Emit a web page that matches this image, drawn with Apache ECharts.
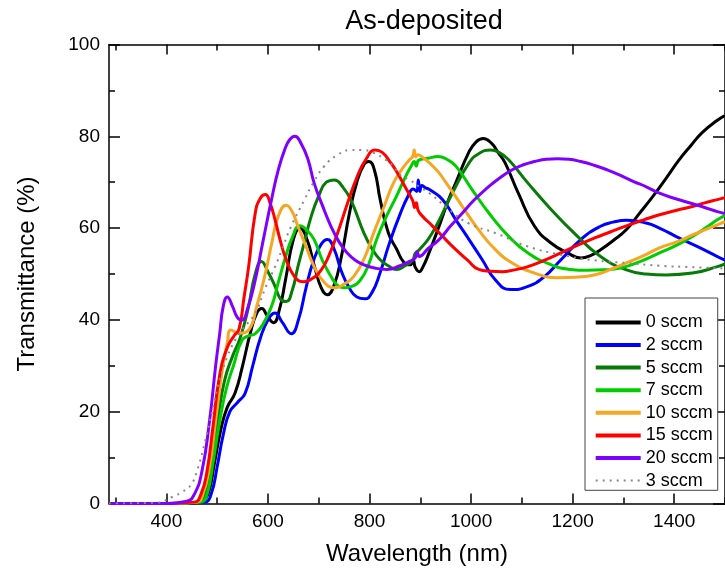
<!DOCTYPE html>
<html><head><meta charset="utf-8">
<script src="https://cdn.jsdelivr.net/npm/echarts@6/dist/echarts.min.js"></script>
<style>html,body{margin:0;padding:0;background:#fff}#c{width:725px;height:576px}</style>
</head><body><div id="c"></div>
<script>
// ---- data ----
const xMin = 287, xMax = 1500;
const xMajorTicks = [400, 600, 800, 1000, 1200, 1400];
const xMinorTicks = [300, 500, 700, 900, 1100, 1300, 1500];
const seriesNames = ['0 sccm', '2 sccm', '5 sccm', '7 sccm', '10 sccm', '15 sccm', '20 sccm', '3 sccm'];

const s0 = [[287,0],[400,0],[460,0.2],[470,0.5],[482,2],[495,9],[507,16],[520,21],[535,24],[550,30],[565,37],[578,41.5],[588,42.5],[598,41],[611,39.4],[622,42],[635,49],[650,57.5],[663,60],[677,57.5],[692,51.5],[705,47],[717,45.5],[730,47.5],[745,54],[760,63],[775,70],[790,74],[799,74.5],[810,72.5],[821,66.2],[837,59],[853,55.5],[868,52.5],[880,52],[886,53],[890,51.5],[898,50.5],[905,51.5],[915,54],[937,60.4],[955,66],[970,69.9],[995,76.4],[1010,78.8],[1024,79.5],[1040,78.5],[1053,76.5],[1067,74.2],[1093,67.6],[1125,60.4],[1158,56.7],[1190,54.6],[1216,53.5],[1235,54],[1255,55.3],[1280,57.3],[1306,59.7],[1330,63],[1358,66.9],[1385,71],[1410,74.9],[1433,78],[1455,80.8],[1485,83.5],[1500,84.5]];
const s1 = [[287,0],[420,0],[475,0.3],[488,2],[500,8],[512,15],[525,20],[540,22],[555,24],[570,30],[585,36],[600,40],[614,41.5],[628,39.5],[646,37],[660,40],[675,47],[690,53],[705,56.5],[717,57.5],[730,55.5],[745,50.5],[760,47],[775,45],[791,44.6],[805,46],[820,50],[840,57],[860,63],[876,67],[886,68.5],[893,68],[896,70.5],[899,68],[903,69.3],[910,68.8],[918,68.4],[944,66.2],[970,61.8],[996,57.5],[1022,53.1],[1048,48.7],[1077,46.6],[1112,47.3],[1145,49.5],[1177,53.1],[1216,57.5],[1255,60.4],[1280,61.3],[1306,61.7],[1345,61.1],[1375,59.8],[1403,58.2],[1445,56],[1485,53.8],[1500,53]];
const s2 = [[287,0],[410,0],[465,0.3],[477,2],[490,9],[502,19],[515,27],[530,32],[545,36],[560,42],[575,50],[587,52.7],[600,50.5],[614,47.3],[625,44.5],[636,44],[648,46.5],[659,51.6],[672,57],[685,62.5],[700,67],[715,70],[731,70.5],[747,69],[763,66.2],[789,58.9],[805,55.5],[821,53.1],[837,51.8],[853,51],[870,51.8],[885,53],[890,54.5],[898,55.3],[915,57.5],[931,60.4],[963,67.6],[996,74.2],[1015,76.2],[1038,77],[1055,76.5],[1074,74.9],[1112,69.8],[1158,64],[1203,58.9],[1255,53.8],[1306,50.9],[1345,50],[1384,49.8],[1436,50.2],[1485,51.6],[1500,52.2]];
const s3 = [[287,0],[415,0],[468,0.3],[480,2],[492,9],[505,18],[518,25],[532,30],[549,35.6],[562,36.5],[575,37],[590,39],[607,42.9],[620,48],[633,53.1],[648,58],[663,60.5],[677,59.5],[691,57.5],[707,53],[724,49.5],[737,47.5],[750,47],[765,47.3],[782,48.7],[798,52],[814,57.5],[833,62.5],[853,66.9],[870,71],[882,73.5],[888,74.5],[892,73.5],[897,74.8],[915,75.2],[935,75.6],[952,75],[970,73.5],[1002,68.4],[1035,63.3],[1074,58.2],[1112,54.6],[1158,52],[1195,51],[1229,50.8],[1260,50.9],[1294,51.3],[1335,52.8],[1371,54.6],[1405,56.3],[1436,58.2],[1465,60.3],[1485,61.8],[1500,62.8]];
const s4 = [[287,0],[410,0],[460,0.3],[472,2],[485,8],[497,18],[510,29],[520,35],[527,37.8],[543,37.1],[562,37.8],[578,43],[595,50.2],[608,57],[620,62.5],[636,65],[648,63.5],[659,60.4],[675,56],[691,51.6],[710,48.3],[731,47],[750,47.8],[769,49.5],[790,53.5],[808,58.9],[828,64.5],[847,69.8],[865,73],[878,74.8],[885,75.6],[888,77],[891,75.5],[895,76],[905,75.4],[918,74.2],[935,72.3],[950,70],[983,64.7],[1015,59.6],[1048,55.3],[1081,52.4],[1125,50.2],[1170,49.2],[1205,49.3],[1242,49.8],[1275,51],[1306,52.4],[1340,54],[1371,55.7],[1405,57],[1436,58.5],[1460,59.6],[1485,60.7],[1500,61.4]];
const s5 = [[287,0],[400,0],[455,0.3],[468,2],[480,7],[492,17],[505,28],[520,34],[533,36.5],[543,38],[553,45],[562,51.6],[575,63.3],[585,66.5],[595,67.3],[604,65.5],[614,61.8],[625,57],[636,53.1],[652,49.5],[669,48.3],[687,49],[705,50.9],[720,54],[737,58.9],[757,65.5],[776,71.3],[793,75],[811,77],[825,76.5],[840,74.5],[853,72.4],[873,68.4],[885,66],[889,64.5],[892,65.5],[896,63.8],[905,62.5],[918,61.1],[937,59],[950,57.5],[970,55.3],[993,53],[1015,51],[1038,50.6],[1061,50.5],[1085,50.9],[1112,51.6],[1145,53],[1177,54.6],[1210,56.3],[1242,57.8],[1275,59.2],[1306,60.5],[1340,61.8],[1371,62.9],[1405,63.9],[1436,64.7],[1460,65.5],[1485,66.2],[1500,66.6]];
const s6 = [[287,0],[390,0],[440,0.5],[455,2],[470,7],[485,18],[497,30],[505,37],[512,43],[520,45],[530,43],[540,40.5],[549,40],[560,42.5],[575,48.7],[590,57],[607,66.2],[620,72.5],[633,77.1],[643,79.3],[653,80],[665,78.5],[679,74.9],[691,69.8],[707,65],[724,60.4],[740,57],[756,54.6],[772,53],[789,52],[810,51.3],[834,51],[860,51.8],[880,52.8],[890,53.5],[894,54.8],[898,53.8],[915,55.5],[937,57.5],[960,60.5],[983,63.3],[1005,66],[1028,68.4],[1055,70.8],[1081,72.7],[1103,73.8],[1125,74.5],[1148,75],[1170,75.1],[1193,75],[1216,74.5],[1242,73.7],[1268,72.7],[1294,71.5],[1319,70.2],[1345,69],[1371,67.6],[1403,66.4],[1436,65.3],[1460,64.5],[1485,63.6],[1500,63.2]];
const s7 = [[287,0],[380,0.2],[413,1.5],[432,2.6],[448,4],[460,7],[475,13],[490,20],[505,27],[520,32],[535,35.5],[549,37.8],[575,41.5],[595,47],[614,51.6],[630,56],[644,60],[672,66.2],[690,70],[711,73.5],[735,75.8],[763,77],[785,77],[808,76.4],[830,75],[847,73.5],[860,71.6],[879,70.5],[898,69],[918,67.6],[957,64],[996,61],[1048,58.9],[1112,56],[1177,54.2],[1242,53],[1306,52.4],[1371,51.8],[1436,51.5],[1500,51.2]];

const seriesData = [s0, s1, s2, s3, s4, s5, s6, s7];
const colors = ['#000000', '#0000ff', '#087a08', '#00cc00', '#f5a623', '#ff0000', '#8000ff', '#888888'];

// ---- chart ----
const FONT = "'Liberation Sans', Arial, sans-serif";
const chart = echarts.init(document.getElementById('c'), null, {renderer: 'canvas'});
const gridRect = {left: 109, right: -8.5, top: 44.5, bottom: 72.5, containLabel: false};
const plain = v => String(v);

function xAxisBase(gridIndex, position, ticks, len, showLine, showLabel) {
  return {
    type: 'value', gridIndex, position, min: xMin, max: xMax,
    axisLine: {show: showLine, onZero: false, lineStyle: {color: '#000', width: 1.5}},
    axisTick: {show: true, inside: true, length: len, customValues: ticks, lineStyle: {color: '#000', width: 1.5}},
    axisLabel: {show: showLabel, customValues: xMajorTicks, formatter: plain, color: '#000', fontSize: 19, fontFamily: FONT, margin: 9},
    splitLine: {show: false}
  };
}

const xAxes = [
  Object.assign(xAxisBase(0, 'bottom', xMajorTicks, 10, true, true), {
    name: 'Wavelength (nm)', nameLocation: 'middle', nameGap: 39,
    nameTextStyle: {color: '#000', fontSize: 24, fontFamily: FONT}
  }),
  xAxisBase(0, 'top', xMajorTicks, 10, true, false),
  xAxisBase(1, 'bottom', xMinorTicks, 6, false, false),
  xAxisBase(1, 'top', xMinorTicks, 6, false, false)
];

function yAxisBase(position, showLabel, tickLen) {
  return {
    type: 'value', gridIndex: 0, position, min: 0, max: 100, interval: 20,
    axisLine: {show: true, onZero: false, lineStyle: {color: '#000', width: 1.5}},
    axisTick: {show: true, inside: true, length: tickLen, lineStyle: {color: '#000', width: 1.5}},
    minorTick: {show: true, splitNumber: 2, length: 6, lineStyle: {color: '#000', width: 1.5}},
    axisLabel: {show: showLabel, formatter: plain, color: '#000', fontSize: 19, fontFamily: FONT, margin: 9},
    splitLine: {show: false}
  };
}

const yAxes = [
  Object.assign(yAxisBase('left', true, 11), {
    name: 'Transmittance (%)', nameLocation: 'middle', nameGap: 70, nameRotate: 90,
    nameTextStyle: {color: '#000', fontSize: 24, fontFamily: FONT}
  }),
  yAxisBase('right', false, 12),
  {type: 'value', gridIndex: 1, min: 0, max: 100, show: false}
];

const series = seriesNames.map((name, i) => ({
  name, type: 'line', xAxisIndex: 0, yAxisIndex: 0,
  data: seriesData[i], symbol: 'none', showSymbol: false,
  smooth: 0.5,
  color: colors[i],
  lineStyle: i === 7 ? {color: colors[i], width: 2, type: [2, 5]} : {color: colors[i], width: 3},
  z: 2 + i
}));

const legendData = seriesNames.map((name, i) => ({
  name,
  lineStyle: i === 7 ? {width: 2, type: [2, 5], color: colors[i]} : {width: 4, color: colors[i]}
}));

chart.setOption({
  animation: false,
  backgroundColor: '#fff',
  title: {
    text: 'As-deposited', left: 419, top: 3, textAlign: 'center',
    textStyle: {color: '#000', fontSize: 27, fontWeight: 'normal', fontFamily: FONT}
  },
  grid: [gridRect, Object.assign({}, gridRect)],
  xAxis: xAxes,
  yAxis: yAxes,
  legend: {
    data: legendData, orient: 'vertical', left: 585, top: 298,
    padding: [15.4, 5, 0.7, 8.7], itemGap: 4.6, itemWidth: 45, itemHeight: 14,
    borderColor: '#444', borderWidth: 1, backgroundColor: '#fff',
    itemStyle: {opacity: 0},
    textStyle: {color: '#000', fontSize: 18, fontFamily: FONT},
    selectedMode: false
  },
  series
});
</script>
</body></html>
